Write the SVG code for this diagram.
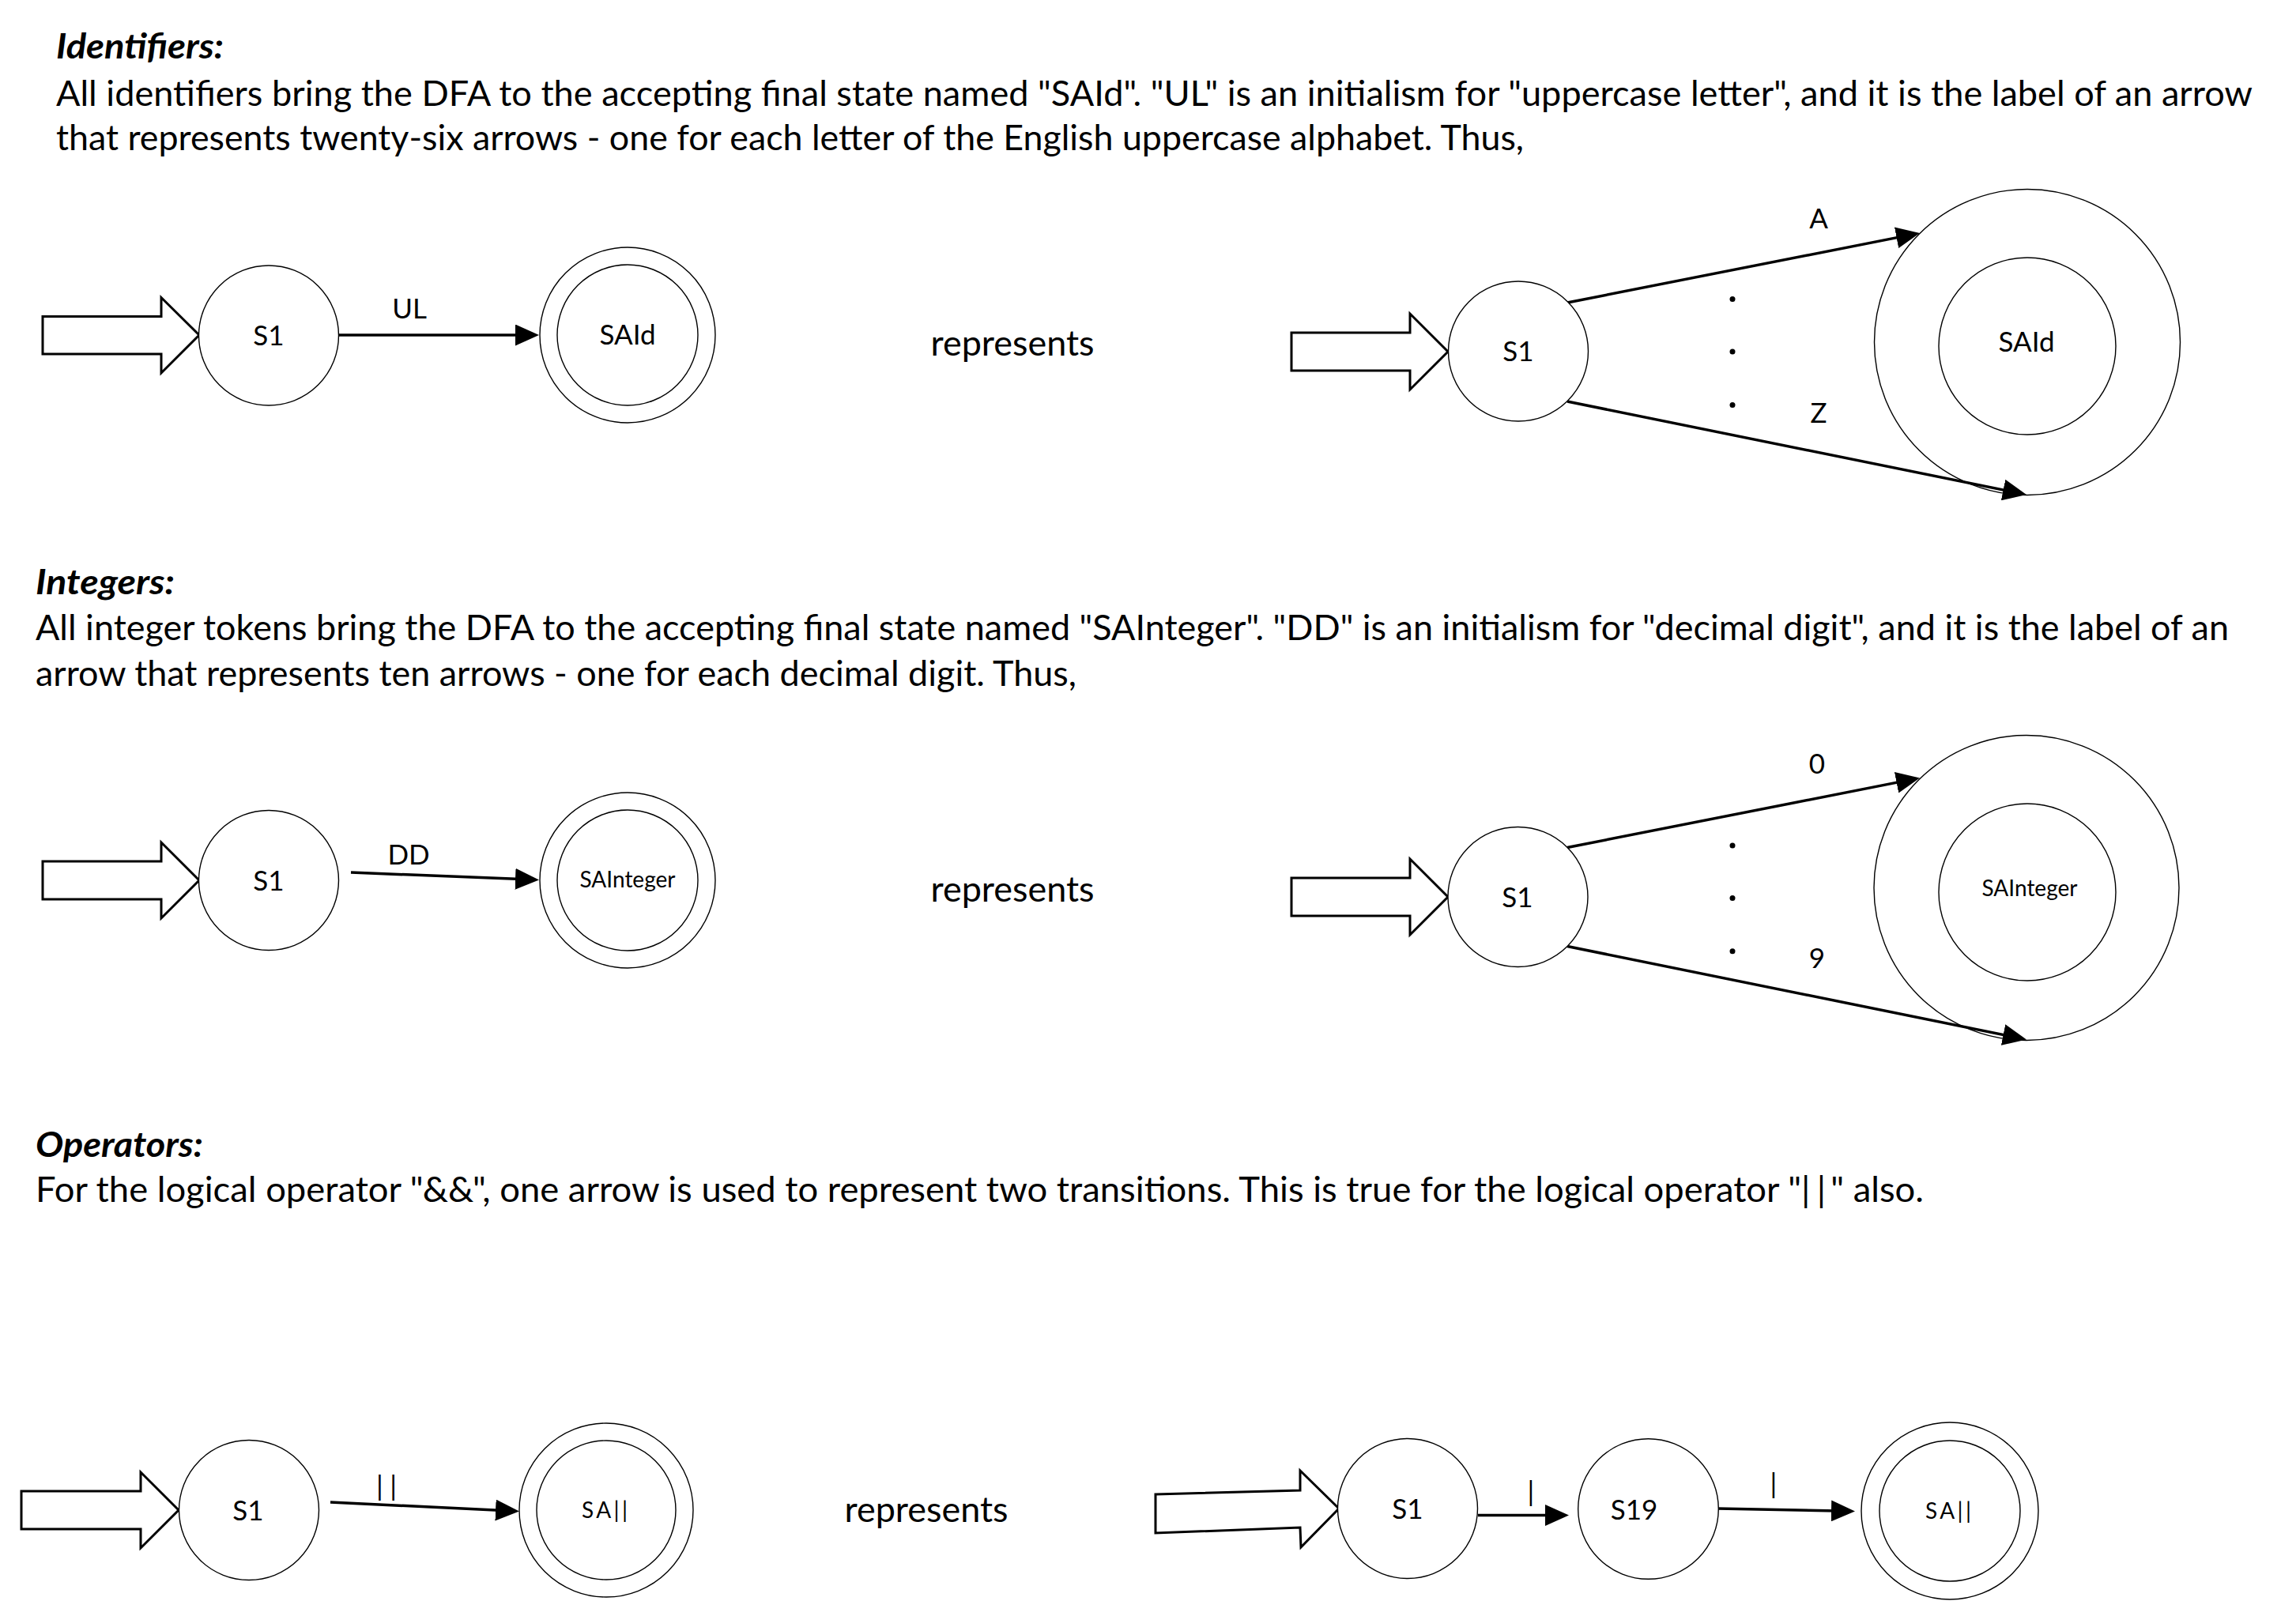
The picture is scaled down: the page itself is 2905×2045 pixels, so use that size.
<svg xmlns="http://www.w3.org/2000/svg" width="2905" height="2045" viewBox="0 0 2905 2045">
<style>
  text { font-family: Lato, "Open Sans", "Liberation Sans", sans-serif; fill: #000; }
  .body { font-size: 44px; }
  .title { font-size: 44px; font-weight: bold; font-style: italic; }
  .lbl { font-size: 35px; text-anchor: middle; }
  .small { font-size: 28px; text-anchor: middle; }
  .rep { font-size: 44px; text-anchor: middle; }
  .st { fill: #fff; stroke: #000; stroke-width: 1.4; }
  .ha { fill: #fff; stroke: #000; stroke-width: 3; stroke-linejoin: miter; }
  .edge { stroke: #000; stroke-width: 3.5; fill: none; marker-end: url(#ah); }
  .dot { fill: #000; }
</style>
<defs>
  <marker id="ah" markerUnits="userSpaceOnUse" viewBox="0 0 30 27" markerWidth="30" markerHeight="27" refX="20" refY="13.5" orient="auto">
    <path d="M0,0 L30,13.5 L0,27 z" fill="#000"/>
  </marker>
</defs>
<rect width="2905" height="2045" fill="#fff"/>

<!-- Text blocks -->
<g id="text-identifiers">
  <text class="title" x="71" y="74" textLength="212" lengthAdjust="spacingAndGlyphs">Identifiers:</text>
  <text class="body" x="71" y="134" textLength="2779" lengthAdjust="spacingAndGlyphs">All identifiers bring the DFA to the accepting final state named "SAId". "UL" is an initialism for "uppercase letter", and it is the label of an arrow</text>
  <text class="body" x="71" y="190" textLength="1857" lengthAdjust="spacingAndGlyphs">that represents twenty-six arrows - one for each letter of the English uppercase alphabet. Thus,</text>
</g>
<g id="text-integers">
  <text class="title" x="45" y="752" textLength="176" lengthAdjust="spacingAndGlyphs">Integers:</text>
  <text class="body" x="45" y="810" textLength="2775" lengthAdjust="spacingAndGlyphs">All integer tokens bring the DFA to the accepting final state named "SAInteger". "DD" is an initialism for "decimal digit", and it is the label of an</text>
  <text class="body" x="45" y="868" textLength="1317" lengthAdjust="spacingAndGlyphs">arrow that represents ten arrows - one for each decimal digit. Thus,</text>
</g>
<g id="text-operators">
  <text class="title" x="45" y="1464" textLength="212" lengthAdjust="spacingAndGlyphs">Operators:</text>
  <text class="body" x="45" y="1521" textLength="2389" lengthAdjust="spacingAndGlyphs">For the logical operator "&amp;&amp;", one arrow is used to represent two transitions. This is true for the logical operator "<tspan letter-spacing="8">|</tspan><tspan letter-spacing="6">|</tspan>" also.</text>
</g>
<g id="represents-labels">
  <text class="rep" x="1281" y="450" textLength="207" lengthAdjust="spacingAndGlyphs">represents</text>
  <text class="rep" x="1281" y="1141" textLength="207" lengthAdjust="spacingAndGlyphs">represents</text>
  <text class="rep" x="1172" y="1926" textLength="207" lengthAdjust="spacingAndGlyphs">represents</text>
</g>

<!-- Start arrows (hollow) -->
<g id="start-arrows">
  <polygon class="ha" points="54,400.5 204,400.5 204,376.5 252,424 204,472 204,448 54,448"/>
  <polygon class="ha" points="1634,421 1784,421 1784,397 1832,445 1784,493 1784,469 1634,469"/>
  <polygon class="ha" points="54,1090 204,1090 204,1066 252,1114 204,1162 204,1138 54,1138"/>
  <polygon class="ha" points="1634,1111 1784,1111 1784,1087 1832,1135 1784,1183 1784,1159 1634,1159"/>
  <polygon class="ha" points="27,1887 178,1887 178,1863 226,1911 178,1959 178,1935 27,1935"/>
  <polygon class="ha" points="1462,1891 1645,1886 1645,1861 1694,1909 1646,1958 1645,1933 1462,1940"/>
</g>

<!-- Connectors -->
<g id="connectors">
  <line class="edge" x1="428" y1="424" x2="672" y2="424"/>
  <line class="edge" x1="1983" y1="383" x2="2419.2" y2="296.9"/>
  <line class="edge" x1="1983" y1="508" x2="2554.2" y2="624"/>
  <line class="edge" x1="444" y1="1104" x2="672" y2="1113.1"/>
  <line class="edge" x1="1983" y1="1072.5" x2="2419.2" y2="986.4"/>
  <line class="edge" x1="1983" y1="1197.5" x2="2554.2" y2="1313.5"/>
  <line class="edge" x1="418" y1="1901" x2="647" y2="1912"/>
  <line class="edge" x1="1870" y1="1917.5" x2="1975" y2="1917.5"/>
  <line class="edge" x1="2173" y1="1909" x2="2337" y2="1912.3"/>
  <text class="lbl" x="518" y="403">UL</text>
  <text class="lbl" x="2301" y="289">A</text>
  <text class="lbl" x="2301" y="535">Z</text>
  <text class="lbl" x="517" y="1094">DD</text>
  <text class="lbl" x="2299" y="979">0</text>
  <text class="lbl" x="2299" y="1225">9</text>
  <text class="lbl" x="489" y="1893" textLength="26" lengthAdjust="spacing">||</text>
  <text class="lbl" x="1937" y="1900">|</text>
  <text class="lbl" x="2244" y="1890">|</text>
  <circle class="dot" cx="2192" cy="378.5" r="3.5"/>
  <circle class="dot" cx="2192" cy="445" r="3.5"/>
  <circle class="dot" cx="2192" cy="512.5" r="3.5"/>
  <circle class="dot" cx="2192" cy="1070" r="3.5"/>
  <circle class="dot" cx="2192" cy="1136.6" r="3.5"/>
  <circle class="dot" cx="2192" cy="1203.7" r="3.5"/>
</g>

<!-- Section 1 nodes -->
<g id="id-left-S1">
  <circle class="st" cx="340" cy="424.5" r="88.5"/>
  <text class="lbl" x="340" y="437">S1</text>
</g>
<g id="id-left-SAId">
  <circle class="st" cx="794" cy="424" r="111"/>
  <circle class="st" cx="794" cy="424" r="89"/>
  <text class="lbl" x="794" y="436">SAId</text>
</g>
<g id="id-right-S1">
  <circle class="st" cx="1921" cy="444.5" r="88.5"/>
  <text class="lbl" x="1921" y="457">S1</text>
</g>
<g id="id-right-SAId">
  <circle class="st" cx="2565" cy="433" r="193.5" fill-opacity="0"/>
  <circle class="st" cx="2565" cy="438" r="112"/>
  <text class="lbl" x="2564" y="445">SAId</text>
</g>

<!-- Section 2 nodes -->
<g id="int-left-S1">
  <circle class="st" cx="340" cy="1114" r="88.5"/>
  <text class="lbl" x="340" y="1127">S1</text>
</g>
<g id="int-left-SAInteger">
  <circle class="st" cx="794" cy="1114" r="111"/>
  <circle class="st" cx="794" cy="1114" r="89"/>
  <text class="small" x="794" y="1123">SAInteger</text>
</g>
<g id="int-right-S1">
  <circle class="st" cx="1920.5" cy="1135" r="88.5"/>
  <text class="lbl" x="1920" y="1147.5">S1</text>
</g>
<g id="int-right-SAInteger">
  <circle class="st" cx="2564" cy="1123.5" r="193" fill-opacity="0"/>
  <circle class="st" cx="2565" cy="1129" r="112"/>
  <text class="small" x="2568" y="1134">SAInteger</text>
</g>

<!-- Section 3 nodes -->
<g id="op-left-S1">
  <circle class="st" cx="315" cy="1911" r="88.5"/>
  <text class="lbl" x="314" y="1924">S1</text>
</g>
<g id="op-left-SA">
  <circle class="st" cx="767" cy="1911" r="110"/>
  <circle class="st" cx="767" cy="1911" r="88"/>
  <text class="small" x="765" y="1921" textLength="58" lengthAdjust="spacing">SA||</text>
</g>
<g id="op-right-S1">
  <circle class="st" cx="1781" cy="1909" r="88.5"/>
  <text class="lbl" x="1781" y="1922">S1</text>
</g>
<g id="op-right-S19">
  <circle class="st" cx="2085.5" cy="1909.5" r="88.8"/>
  <text class="lbl" x="2067.5" y="1923">S19</text>
</g>
<g id="op-right-SA">
  <circle class="st" cx="2467" cy="1912" r="112"/>
  <circle class="st" cx="2467" cy="1912" r="89"/>
  <text class="small" x="2465" y="1922" textLength="58" lengthAdjust="spacing">SA||</text>
</g>
</svg>
